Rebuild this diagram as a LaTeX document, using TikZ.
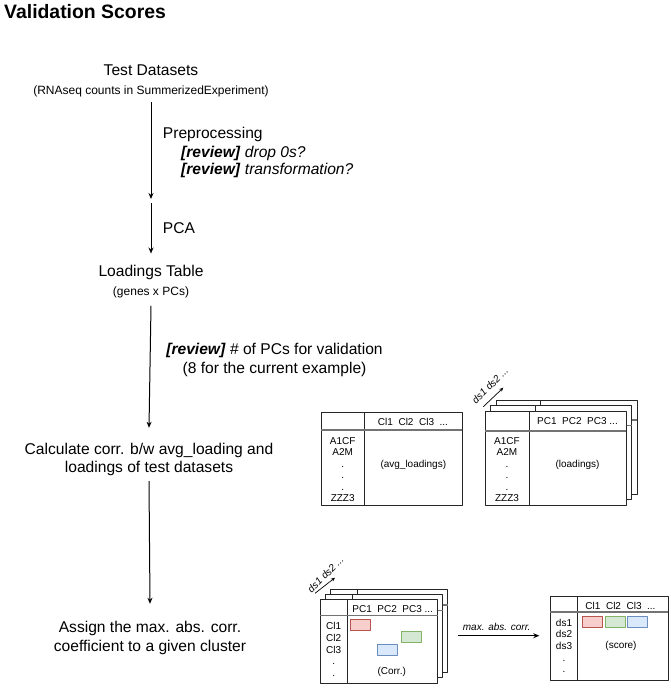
\documentclass[tikz,border=0pt]{standalone}
\usepackage{fontspec}
\setmainfont{Liberation Sans}
\usetikzlibrary{arrows.meta}
\definecolor{redfill}{HTML}{F8CECC}\definecolor{redline}{HTML}{B85450}
\definecolor{greenfill}{HTML}{D5E8D4}\definecolor{greenline}{HTML}{82B366}
\definecolor{bluefill}{HTML}{DAE8FC}\definecolor{blueline}{HTML}{6C8EBF}
% one sheet of a table: corners, column divider, header line
\newcommand{\sheet}[6]{%
  \draw[frame] (#1,#2) rectangle (#3,#4);
  \draw[frame] (#5,#2) -- (#5,#4);
  \draw[hline] (#1,#6) -- (#3,#6);}
\begin{document}
\begin{tikzpicture}[x=1pt,y=-1pt,>={Stealth[length=6pt,width=5pt]},line join=round,
  big/.style={font=\fontsize{15.6}{18.5}\selectfont,inner sep=0pt,align=center},
  small/.style={font=\fontsize{12}{14}\selectfont,inner sep=0pt},
  tiny/.style={font=\fontsize{10}{11.6}\selectfont,inner sep=0pt,align=center},
  flow/.style={->,line width=1pt},
  dsarrow/.style={-{Stealth[length=4pt,width=3.5pt]},line width=0.7pt},
  frame/.style={draw=black!85,line width=1pt,fill=white},
  hline/.style={draw=black!55,line width=1.6pt},
  cell/.style={draw=#1line,fill=#1fill,line width=0.9pt}]
\useasboundingbox (0,0) rectangle (671,688);
\node[anchor=west,inner sep=0pt,font=\fontsize{19.4}{22}\selectfont\bfseries] (title) at (4,11.3) {Validation Scores};

% left column: steps
\node[big] (test) at (151,70) {Test Datasets};
\node[small] (testsub) at (151,91) {(RNAseq counts in SummerizedExperiment)};
\coordinate (pre) at (151,199);
\coordinate (post) at (151,203);
\draw[flow] ([yshift=-5pt]testsub.south) -- (pre);
\node[big,anchor=west] (prep) at (162.7,134.3) {Preprocessing};
\node[big,anchor=west] (rev1) at (181,153.2) {\textbf{\textit{[review]}} \textit{drop 0s?}};
\node[big,anchor=west] (rev2) at (181,170.9) {\textbf{\textit{[review]}} \textit{transformation?}};
\node[big] (load) at (151,272.6) {Loadings Table};
\node[small] (loadsub) at (151,292) {(genes x PCs)};
\draw[flow] (post) -- ([yshift=11.6pt]load.north);
\node[big,anchor=west] (pca) at (162.7,227.7) {PCA};
\node[big] (calc) at (149,459.7) {Calculate corr. b/w avg\_loading and\\loadings of test datasets};
\draw[flow] ([yshift=-8pt]loadsub.south) -- ([yshift=15.2pt]calc.north);
\node[big,font=\fontsize{15.6}{19}\selectfont] (revpc) at (274.5,359.5) {\textbf{\textit{[review]}} \# of PCs for validation\\(8 for the current example)};
\node[big] (assign) at (150,638) {Assign the max. abs. corr.\\coefficient to a given cluster};
\draw[flow] ([yshift=-4.8pt]calc.south) -- ([yshift=17.5pt]assign.north);

% avg loadings table
\sheet{321}{412}{462}{505}{364.5}{430}
\node[tiny] (avghead) at (413,421.5) {Cl1\ \ Cl2\ \ Cl3\ \ ...};
\node[tiny,font=\fontsize{10}{11.5}\selectfont] (avgrows) at (342.7,469.7) {A1CF\\A2M\\.\\.\\.\\ZZZ3};
\node[tiny] (avgbody) at (413.3,464.5) {(avg\_loadings)};

% loadings of the test datasets
\foreach \k in {2,1,0}
  \sheet{485+5.5*\k}{411-5.5*\k}{626+5.5*\k}{505-5.5*\k}{529.5+5.5*\k}{431-5.5*\k}
\node[tiny] (ldhead) at (577.5,421.5) {PC1\ \ PC2\ \ PC3 ...};
\node[tiny,font=\fontsize{10}{11.5}\selectfont] (ldrows) at (507,469.7) {A1CF\\A2M\\.\\.\\.\\ZZZ3};
\node[tiny] (ldbody) at (577.5,464.5) {(loadings)};
\coordinate (ldsA) at (483.3,406.7);
\coordinate (ldsB) at (503.3,387.7);
\draw[dsarrow] (ldsA) -- (ldsB);
\node[tiny,font=\fontsize{10}{11.6}\selectfont\itshape,rotate=45] (ldslbl) at (490,385.5) {ds1 ds2 ...};

% correlation tables
\foreach \k in {2,1,0}
  \sheet{320+5.2*\k}{599.5-5.2*\k}{437.5+5.2*\k}{683-5.2*\k}{347.5+5.2*\k}{615.5-5.2*\k}
\node[tiny] (corrhead) at (392.7,609.5) {PC1\ \ PC2\ \ PC3 ...};
\node[tiny,font=\fontsize{10}{11.8}\selectfont] (corrrows) at (333.7,649.5) {Cl1\\Cl2\\Cl3\\.\\.};
\node[tiny] (corrbody) at (391.7,671.7) {(Corr.)};
\draw[cell=red] (350,619.3) rectangle (370.7,630);
\draw[cell=green] (401,631.7) rectangle (421.7,642.3);
\draw[cell=blue] (377,644.3) rectangle (397.7,655);
\coordinate (cdsA) at (315,593.3);
\coordinate (cdsB) at (335,577.7);
\draw[dsarrow] (cdsA) -- (cdsB);
\node[tiny,font=\fontsize{10}{11.6}\selectfont\itshape,rotate=45] (cdslbl) at (325.5,574.5) {ds1 ds2 ...};

% max. abs. corr. -> score
\coordinate (corrout) at (458.3,635.7);
\coordinate (scorein) at (539.3,635.7);
\draw[flow] (corrout) -- (scorein);
\node[tiny,font=\fontsize{10}{11.6}\selectfont\itshape] (maxlbl) at (496.7,626.7) {max. abs. corr.};

% score table
\sheet{550}{596}{668}{680}{577.5}{612}
\node[tiny] (scorehead) at (620.5,606) {Cl1\ \ Cl2\ \ Cl3\ \ ...};
\node[tiny,font=\fontsize{10}{11.7}\selectfont] (scorerows) at (564,645.9) {ds1\\ds2\\ds3\\.\\.};
\node[tiny] (scorebody) at (621,646) {(score)};
\draw[cell=red] (582.3,616.7) rectangle (602.5,627);
\draw[cell=green] (605,616.7) rectangle (625.3,627);
\draw[cell=blue] (627.5,616.7) rectangle (647.5,627);
\end{tikzpicture}
\end{document}
